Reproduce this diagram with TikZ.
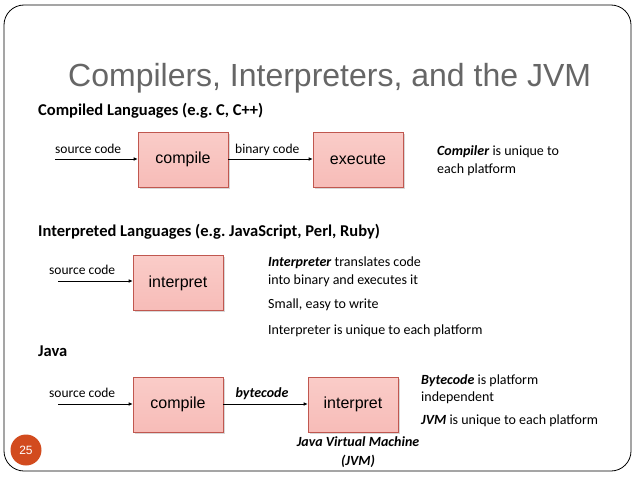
\documentclass[tikz,border=0pt]{standalone}
\usepackage{fontspec}
\setmainfont{Carlito}
\newfontfamily\arial{Liberation Sans}
\usetikzlibrary{arrows.meta,shadows}
\frenchspacing
\definecolor{boxtop}{HTML}{FACCC8}
\definecolor{boxbot}{HTML}{F7BCB8}
\definecolor{boxborder}{HTML}{C0574F}
\definecolor{pagenum}{HTML}{D24B1E}
\definecolor{titlegray}{HTML}{666666}
\tikzset{
  procbox/.style={draw=boxborder, line width=0.6pt, top color=boxtop, bottom color=boxbot,
    minimum width=90pt, minimum height=55pt, inner sep=0pt,
    font=\arial\fontsize{16}{19}\selectfont,
    drop shadow={opacity=0.3, shadow xshift=1.5pt, shadow yshift=-1.5pt}},
  arr/.style={line width=0.6pt, -{Latex[length=4pt,width=3.5pt]}},
  lbl/.style={anchor=base west, inner sep=0pt, font=\fontsize{13.5}{16}\selectfont},
  body/.style={anchor=base west, inner sep=0pt, font=\fontsize{14}{17}\selectfont},
  head/.style={anchor=base west, inner sep=0pt, font=\bfseries\fontsize{16.5}{19}\selectfont},
  bi/.style={anchor=base, inner sep=0pt, font=\bfseries\itshape\fontsize{14}{17}\selectfont},
}
\begin{document}
\begin{tikzpicture}[x=1pt,y=-1pt]
\useasboundingbox (0,0) rectangle (638,479);
\fill[white] (0,0) rectangle (638,479);
% frame
\draw[line width=0.8pt, rounded corners=20pt] (4,5) rectangle (631,471);
% title
\node[anchor=base west, inner sep=0pt, text=titlegray, font=\arial\fontsize{32}{38}\selectfont] (title) at (68,86) {Compilers, Interpreters, and the JVM};
% section 1
\node[head] (h1) at (38,115) {Compiled Languages (e.g. C, C++)};
\node[procbox] (c1) at (183,159.5) {compile};
\node[procbox] (e1) at (358,159.5) {execute};
\coordinate (s1) at (55,159);
\draw[arr] (s1) -- (s1 -| c1.west);
\draw[arr] (c1.east |- s1) -- (e1.west |- s1);
\node[lbl] (l1) at (55,153.5) {source code};
\node[lbl] (l2) at (235,153.5) {binary code};
\node[body] (t1) at (437,155) {\textbf{\textit{Compiler}} is unique to};
\node[body] (t2) at (437,173) {each platform};
% section 2
\node[head] (h2) at (38,236) {Interpreted Languages (e.g. JavaScript, Perl, Ruby)};
\node[procbox] (i2) at (178,283) {interpret};
\coordinate (s2) at (58,281);
\draw[arr] (s2) -- (s2 -| i2.west);
\node[lbl] (l3) at (49,274) {source code};
\node[body] (t3) at (268,266) {\textbf{\textit{Interpreter}} translates code};
\node[body] (t4) at (268,284) {into binary and executes it};
\node[body] (t5) at (268,308) {Small, easy to write};
\node[body] (t6) at (268,334) {Interpreter is unique to each platform};
% section 3
\node[head] (h3) at (38,356) {Java};
\node[procbox] (c3) at (178,404.5) {compile};
\node[procbox] (i3) at (353,404.5) {interpret};
\coordinate (s3) at (58,404);
\draw[arr] (s3) -- (s3 -| c3.west);
\draw[arr] (c3.east |- s3) -- (i3.west |- s3);
\node[lbl] (l4) at (49,397.5) {source code};
\node[bi] (bc) at (262,397.5) {bytecode};
\node[body] (t7) at (421,384) {\textbf{\textit{Bytecode}} is platform};
\node[body] (t8) at (421,401) {independent};
\node[body] (t9) at (421,424) {\textbf{\textit{JVM}} is unique to each platform};
\node[bi] (jvm1) at (358,446) {Java Virtual Machine};
\node[bi] (jvm2) at (358,465) {(JVM)};
% page number
\node[circle, fill=pagenum, minimum size=31pt, inner sep=0pt, text=white, font=\arial\fontsize{12}{14}\selectfont] (pg) at (26,450) {25};
\end{tikzpicture}
\end{document}
